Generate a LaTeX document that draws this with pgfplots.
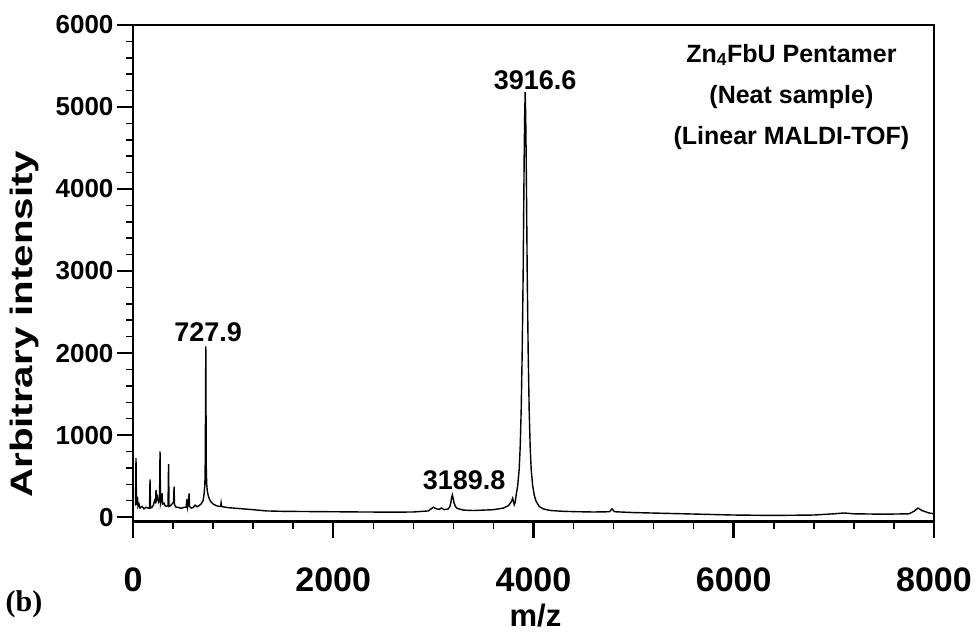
\documentclass[border=0pt]{standalone}
\usepackage{pgfplots}
\pgfplotsset{compat=1.18}
\usepackage{fontspec}
\setmainfont{Liberation Sans}
\newfontfamily\serifb{Liberation Serif}

% spectrum (m/z, intensity)
\pgfplotstableread{
mz   I
25   140
30   720
35   150
45   250
50   130
60   160
70   110
90   130
110  100
130  120
150  110
165  110
170  460
175  110
190  120
205  150
215  200
225  180
230  330
235  210
245  250
255  180
265  200
270  800
275  170
285  230
290  290
295  160
310  170
320  140
335  130
350  140
355  645
360  130
375  140
390  160
405  180
410  370
415  150
430  120
450  120
470  110
490  110
510  120
530  120
540  220
545  120
555  180
560  290
565  130
580  110
600  115
620  145
640  125
660  140
680  160
700  200
710  280
718  400
722  700
725  1500
727  2080
729  1400
732  600
736  400
742  320
750  270
760  230
775  190
800  160
830  140
860  130
875  130
880  175
885  130
900  125
950  115
1000 110
1100 100
1200 90
1330 75
1500 70
1700 68
2000 65
2300 62
2600 60
2800 62
2950 75
3000 120
3030 100
3060 95
3080 110
3110 90
3150 100
3165 130
3175 180
3183 240
3190 270
3197 230
3205 180
3220 130
3240 105
3300 85
3400 80
3500 85
3600 90
3700 110
3750 140
3780 190
3792 230
3800 190
3808 150
3817 180
3827 270
3842 380
3857 580
3867 850
3877 1300
3887 2000
3892 2500
3897 3000
3902 3700
3907 4400
3912 4900
3917 5180
3922 4900
3927 4400
3932 3700
3937 3000
3942 2500
3947 2000
3957 1300
3967 850
3977 580
3992 380
4007 270
4027 190
4057 130
4097 100
4170 80
4300 70
4450 65
4600 62
4760 65
4785 100
4810 65
5000 55
5500 40
6000 25
6400 20
6800 25
7000 40
7100 50
7200 40
7500 35
7750 40
7800 70
7840 110
7880 80
7950 50
8000 40
}\spectrum

\begin{document}
\begin{tikzpicture}
\begin{axis}[
  at={(133pt,110pt)}, anchor=south west,
  scale only axis, width=801pt, height=497pt,
  xmin=0, xmax=8000, ymin=-60, ymax=6000,
  xtick={0,2000,...,8000}, ytick={0,1000,...,6000},
  minor x tick num=4, minor y tick num=4,
  tick align=outside, tick pos=left,
  major tick length=16pt, minor tick length=7pt,
  every major tick/.append style={line width=2.5pt, black},
  every minor tick/.append style={line width=1.5pt, black},
  axis line style={line width=2pt},
  scaled ticks=false,
  /pgf/number format/1000 sep={},
  /pgf/number format/assume math mode=true,
  yticklabel style={font=\bfseries\fontsize{26}{26}\selectfont},
  xticklabel style={font=\bfseries\fontsize{34}{34}\selectfont, yshift=-26pt},
  xlabel={m/z},
  xlabel style={font=\bfseries\fontsize{31}{31}\selectfont, at={(axis description cs:0.5025,-0.189)}, anchor=center},
  ylabel={\scalebox{1.3}[1]{Arbitrary intensity}},
  ylabel style={font=\bfseries\fontsize{31}{31}\selectfont, at={(axis description cs:-0.136,0.398)}, anchor=center},
  clip=false,
]
\addplot[black, line width=1.4pt] table[x=mz, y=I] {\spectrum};

\draw[line width=2pt] (rel axis cs:0,1) -- (rel axis cs:1,1) -- (rel axis cs:1,0);
\draw[line width=3pt] (rel axis cs:0,0) -- (rel axis cs:1,0);

\node[font=\bfseries\fontsize{27}{27}\selectfont] at (axis cs:4017,5330) {3916.6};
\node[font=\bfseries\fontsize{27}{27}\selectfont] at (axis cs:750,2260) {727.9};
\node[font=\bfseries\fontsize{27}{27}\selectfont] at (axis cs:3307,450) {3189.8};

\node[font=\bfseries\fontsize{25}{25}\selectfont] at (rel axis cs:0.822,0.940) {Zn\textsubscript{4}FbU Pentamer};
\node[font=\bfseries\fontsize{25}{25}\selectfont] at (rel axis cs:0.822,0.856) {(Neat sample)};
\node[font=\bfseries\fontsize{25}{25}\selectfont] at (rel axis cs:0.822,0.772) {(Linear MALDI-TOF)};

\node[font=\serifb\bfseries\fontsize{30}{30}\selectfont] at (axis description cs:-0.136,-0.165) {(b)};
\end{axis}
\pgfresetboundingbox
\path[use as bounding box] (0pt,0pt) rectangle (978pt,632pt);
\end{tikzpicture}
\end{document}
